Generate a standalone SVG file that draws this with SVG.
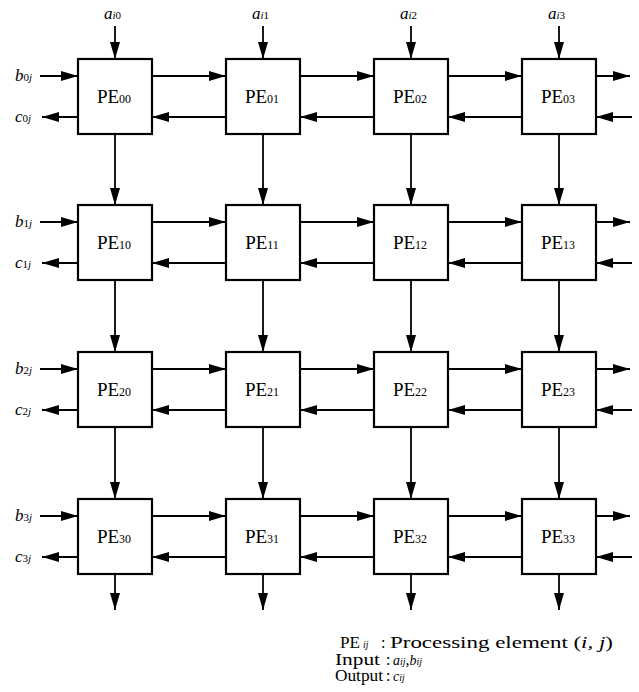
<svg xmlns="http://www.w3.org/2000/svg" width="639" height="692" viewBox="0 0 639 692">
<style>
.box{fill:#fff;stroke:#000;stroke-width:2.2}
.pe{font-family:"Liberation Serif",serif;font-size:19px;text-anchor:middle}
.sub{font-size:12px}
.lab{font-family:"Liberation Serif",serif;font-size:17px;font-style:italic}
.ls{font-size:11px}
.up{font-style:normal}
.c{stroke:#000;stroke-width:1.8;fill:none;marker-end:url(#ah)}
.leg{font-family:"Liberation Serif",serif;font-size:16px}
.lsub{font-family:"Liberation Serif",serif;font-size:10px;font-style:italic}
.it{font-style:italic}
</style>
<defs>
<marker id="ah" markerWidth="17" markerHeight="10" refX="17" refY="5" orient="auto" markerUnits="userSpaceOnUse"><path d="M0,0 L17,5 L0,10 z" fill="#000"/></marker>
</defs>
<rect width="639" height="692" fill="#fff"/>
<g id="connectors">
<path class="c" d="M115,26V59"/><path class="c" d="M263,26V59"/><path class="c" d="M411,26V59"/><path class="c" d="M559,26V59"/>
<path class="c" d="M115,134V205"/><path class="c" d="M263,134V205"/><path class="c" d="M411,134V205"/><path class="c" d="M559,134V205"/>
<path class="c" d="M115,280V352"/><path class="c" d="M263,280V352"/><path class="c" d="M411,280V352"/><path class="c" d="M559,280V352"/>
<path class="c" d="M115,427V499"/><path class="c" d="M263,427V499"/><path class="c" d="M411,427V499"/><path class="c" d="M559,427V499"/>
<path class="c" d="M115,574V610"/><path class="c" d="M263,574V610"/><path class="c" d="M411,574V610"/><path class="c" d="M559,574V610"/>
<path class="c" d="M40,76H78"/><path class="c" d="M78,117H42"/>
<path class="c" d="M40,222H78"/><path class="c" d="M78,263H42"/>
<path class="c" d="M40,369H78"/><path class="c" d="M78,410H42"/>
<path class="c" d="M40,516H78"/><path class="c" d="M78,557H42"/>
<path class="c" d="M152,76H226"/><path class="c" d="M300,76H374"/><path class="c" d="M448,76H522"/><path class="c" d="M596,76H630"/>
<path class="c" d="M226,117H152"/><path class="c" d="M374,117H300"/><path class="c" d="M522,117H448"/><path class="c" d="M632,117H596"/>
<path class="c" d="M152,222H226"/><path class="c" d="M300,222H374"/><path class="c" d="M448,222H522"/><path class="c" d="M596,222H630"/>
<path class="c" d="M226,263H152"/><path class="c" d="M374,263H300"/><path class="c" d="M522,263H448"/><path class="c" d="M632,263H596"/>
<path class="c" d="M152,369H226"/><path class="c" d="M300,369H374"/><path class="c" d="M448,369H522"/><path class="c" d="M596,369H630"/>
<path class="c" d="M226,410H152"/><path class="c" d="M374,410H300"/><path class="c" d="M522,410H448"/><path class="c" d="M632,410H596"/>
<path class="c" d="M152,516H226"/><path class="c" d="M300,516H374"/><path class="c" d="M448,516H522"/><path class="c" d="M596,516H630"/>
<path class="c" d="M226,557H152"/><path class="c" d="M374,557H300"/><path class="c" d="M522,557H448"/><path class="c" d="M632,557H596"/>
</g>
<g id="PE00"><rect class="box" x="78" y="59" width="74" height="75"/><text class="pe" x="114" y="103">PE<tspan class="sub">00</tspan></text></g>
<g id="PE01"><rect class="box" x="226" y="59" width="74" height="75"/><text class="pe" x="262" y="103">PE<tspan class="sub">01</tspan></text></g>
<g id="PE02"><rect class="box" x="374" y="59" width="74" height="75"/><text class="pe" x="410" y="103">PE<tspan class="sub">02</tspan></text></g>
<g id="PE03"><rect class="box" x="522" y="59" width="74" height="75"/><text class="pe" x="558" y="103">PE<tspan class="sub">03</tspan></text></g>
<g id="PE10"><rect class="box" x="78" y="205" width="74" height="75"/><text class="pe" x="114" y="249">PE<tspan class="sub">10</tspan></text></g>
<g id="PE11"><rect class="box" x="226" y="205" width="74" height="75"/><text class="pe" x="262" y="249">PE<tspan class="sub">11</tspan></text></g>
<g id="PE12"><rect class="box" x="374" y="205" width="74" height="75"/><text class="pe" x="410" y="249">PE<tspan class="sub">12</tspan></text></g>
<g id="PE13"><rect class="box" x="522" y="205" width="74" height="75"/><text class="pe" x="558" y="249">PE<tspan class="sub">13</tspan></text></g>
<g id="PE20"><rect class="box" x="78" y="352" width="74" height="75"/><text class="pe" x="114" y="396">PE<tspan class="sub">20</tspan></text></g>
<g id="PE21"><rect class="box" x="226" y="352" width="74" height="75"/><text class="pe" x="262" y="396">PE<tspan class="sub">21</tspan></text></g>
<g id="PE22"><rect class="box" x="374" y="352" width="74" height="75"/><text class="pe" x="410" y="396">PE<tspan class="sub">22</tspan></text></g>
<g id="PE23"><rect class="box" x="522" y="352" width="74" height="75"/><text class="pe" x="558" y="396">PE<tspan class="sub">23</tspan></text></g>
<g id="PE30"><rect class="box" x="78" y="499" width="74" height="75"/><text class="pe" x="114" y="543">PE<tspan class="sub">30</tspan></text></g>
<g id="PE31"><rect class="box" x="226" y="499" width="74" height="75"/><text class="pe" x="262" y="543">PE<tspan class="sub">31</tspan></text></g>
<g id="PE32"><rect class="box" x="374" y="499" width="74" height="75"/><text class="pe" x="410" y="543">PE<tspan class="sub">32</tspan></text></g>
<g id="PE33"><rect class="box" x="522" y="499" width="74" height="75"/><text class="pe" x="558" y="543">PE<tspan class="sub">33</tspan></text></g>
<g id="labels">
<text class="lab" x="104" y="19">a<tspan class="ls">i<tspan class="up">0</tspan></tspan></text>
<text class="lab" x="252" y="19">a<tspan class="ls">i<tspan class="up">1</tspan></tspan></text>
<text class="lab" x="400" y="19">a<tspan class="ls">i<tspan class="up">2</tspan></tspan></text>
<text class="lab" x="548" y="19">a<tspan class="ls">i<tspan class="up">3</tspan></tspan></text>
<text class="lab" x="15" y="81">b<tspan class="ls"><tspan class="up">0</tspan>j</tspan></text>
<text class="lab" x="15" y="122">c<tspan class="ls"><tspan class="up">0</tspan>j</tspan></text>
<text class="lab" x="15" y="227">b<tspan class="ls"><tspan class="up">1</tspan>j</tspan></text>
<text class="lab" x="15" y="268">c<tspan class="ls"><tspan class="up">1</tspan>j</tspan></text>
<text class="lab" x="15" y="374">b<tspan class="ls"><tspan class="up">2</tspan>j</tspan></text>
<text class="lab" x="15" y="415">c<tspan class="ls"><tspan class="up">2</tspan>j</tspan></text>
<text class="lab" x="15" y="521">b<tspan class="ls"><tspan class="up">3</tspan>j</tspan></text>
<text class="lab" x="15" y="562">c<tspan class="ls"><tspan class="up">3</tspan>j</tspan></text>
</g>
<g id="legend">
<text class="leg" x="340" y="648" textLength="20" lengthAdjust="spacingAndGlyphs">PE</text>
<text class="lsub" x="363" y="648">ij</text>
<text class="leg" x="381" y="648">:</text>
<text class="leg" x="390" y="648" textLength="223" lengthAdjust="spacingAndGlyphs">Processing element (<tspan class="it">i, j</tspan>)</text>
<text class="leg" x="335" y="665" textLength="45" lengthAdjust="spacingAndGlyphs">Input</text>
<text class="leg" x="386" y="665">:</text>
<text class="leg" x="393" y="665"><tspan class="it" font-size="14">a</tspan><tspan class="lsub" font-size="9">ij</tspan>,<tspan class="it" font-size="14">b</tspan><tspan class="lsub" font-size="9">ij</tspan></text>
<text class="leg" x="335" y="681" textLength="48" lengthAdjust="spacingAndGlyphs">Output</text>
<text class="leg" x="386" y="681">:</text>
<text class="leg" x="393" y="681"><tspan class="it" font-size="14">c</tspan><tspan class="lsub" font-size="9">ij</tspan></text>
</g>
</svg>
